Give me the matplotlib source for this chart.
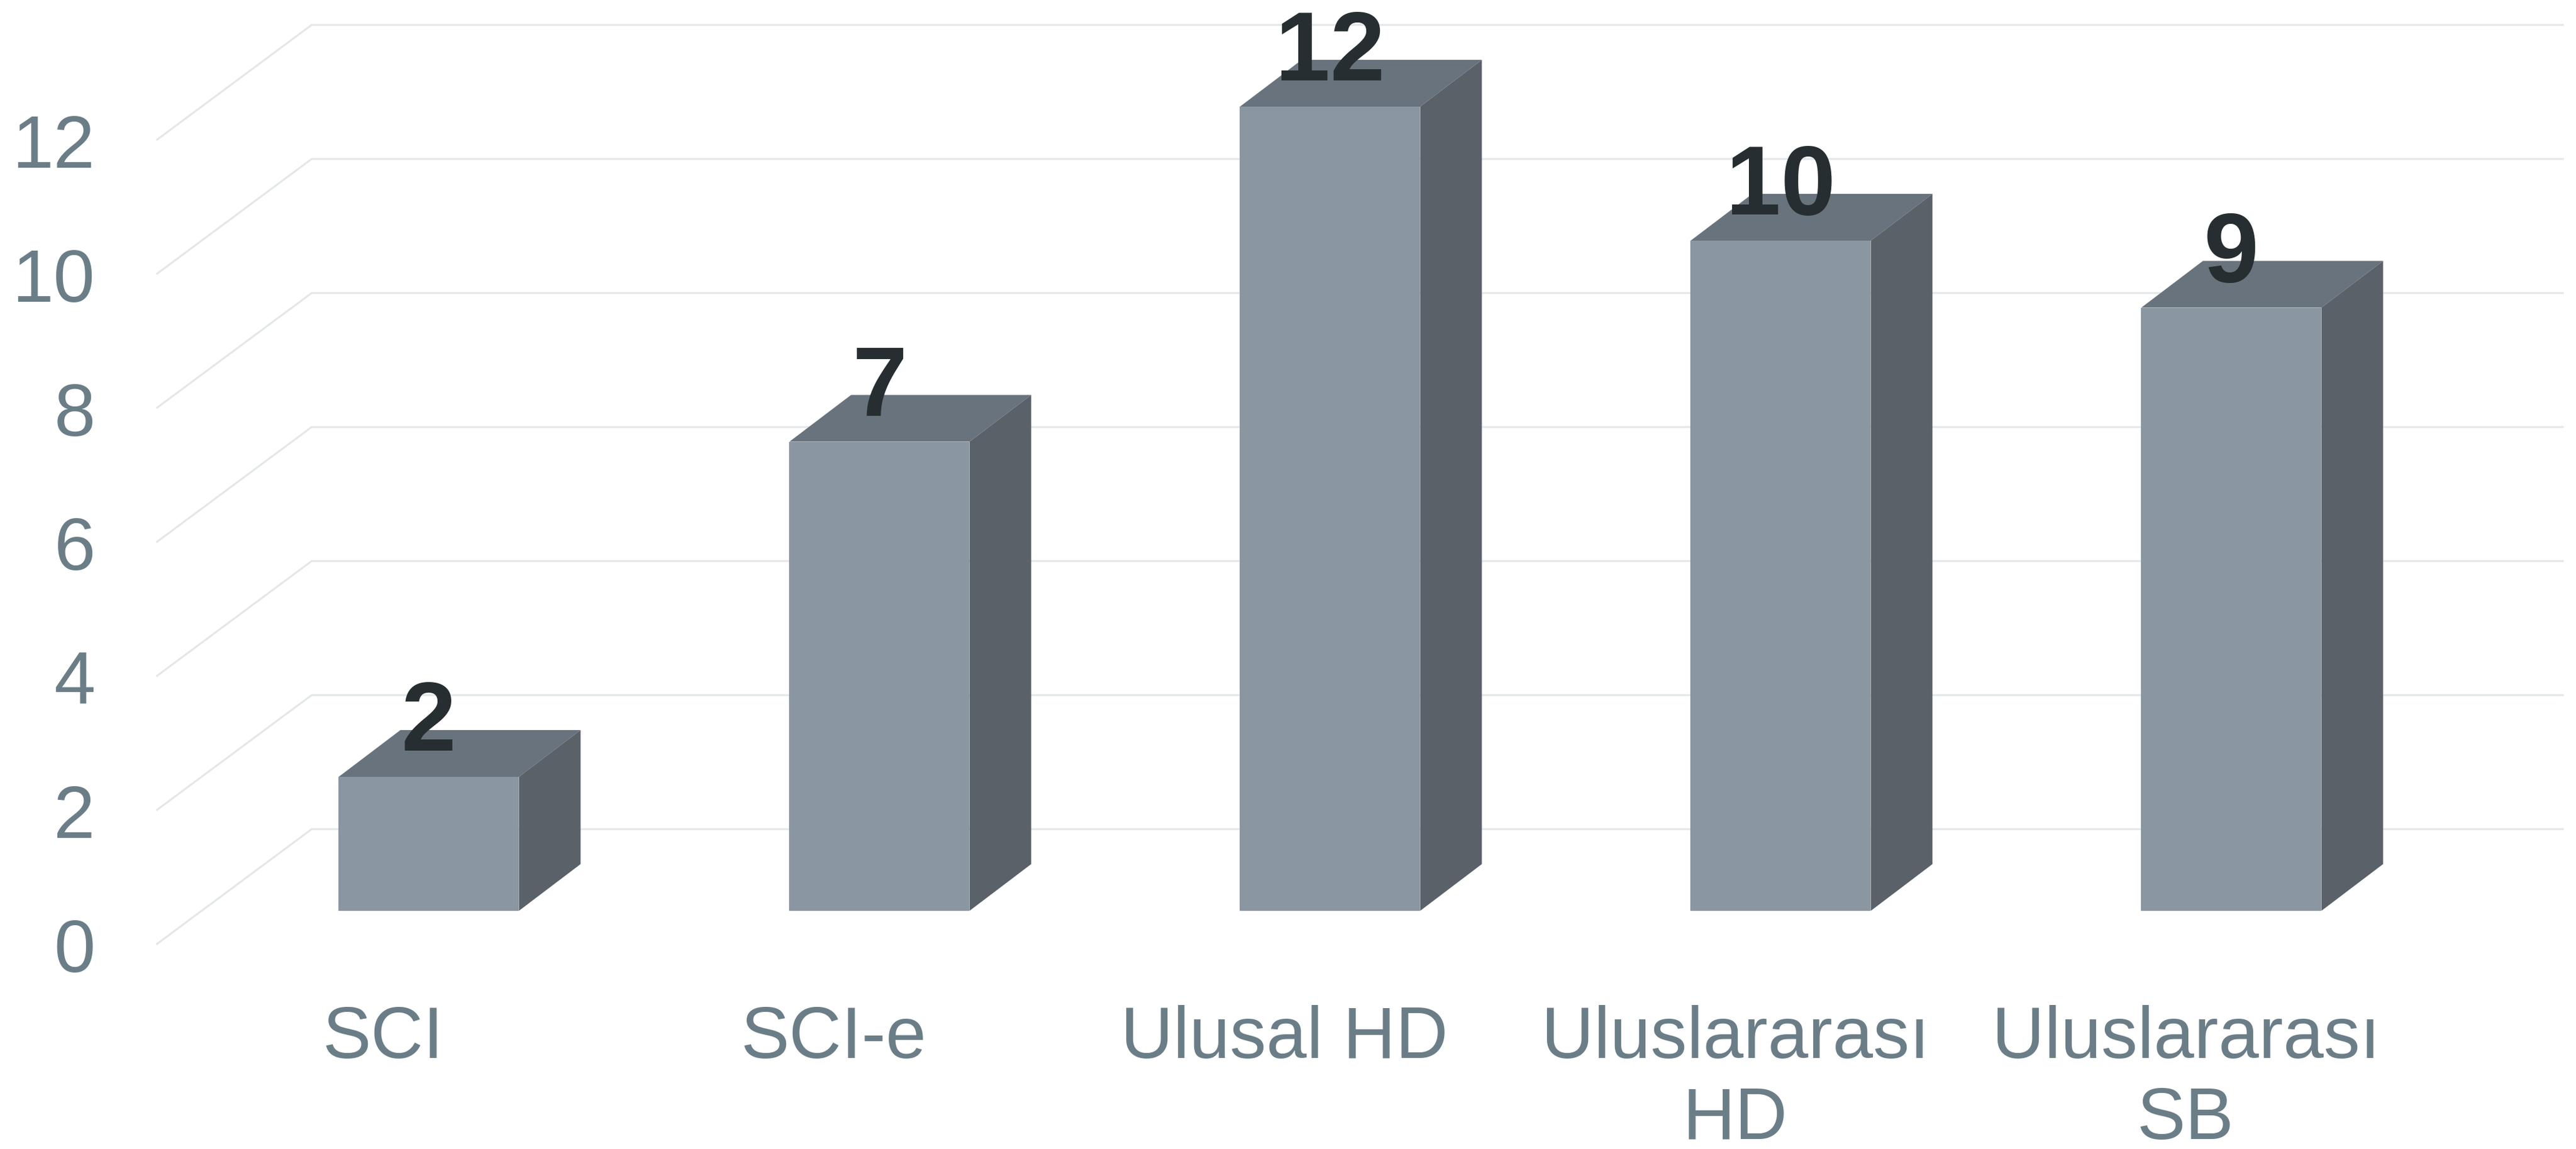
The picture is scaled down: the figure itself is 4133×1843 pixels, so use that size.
import matplotlib
matplotlib.use("Agg")
import matplotlib.pyplot as plt

categorias = ['SCI', 'SCI-e', 'Ulusal HD', 'Uluslararası\nHD', 'Uluslararası\nSB']
valores = [2, 7, 12, 10, 9]
marcas_y = [0, 2, 4, 6, 8, 10, 12]

ANCHO, ALTO = 4133, 1843
# donde caen en pixeles el centro de la primera barra, el cero y las escalas
X0_PX, Y0_PX = 688, 1461
PASO_X, PASO_Y = 723, 107.5

ancho_barra = 289 / PASO_X
prof_x, prof_y = 99 / PASO_X, 75 / PASO_Y
piso_x0 = (252 - X0_PX) / PASO_X
piso_x1 = (500 - X0_PX) / PASO_X
piso_x2 = (4112 - X0_PX) / PASO_X
piso_y0 = (Y0_PX - 1514) / PASO_Y
piso_y1 = (Y0_PX - 1330) / PASO_Y

COLOR_FRENTE = '#8a96a1'
COLOR_TECHO = '#69737d'
COLOR_LADO = '#5a6169'
COLOR_GRILLA = '#e3e7e9'
COLOR_TEXTO = '#6b7e87'
COLOR_VALOR = '#262e31'

plt.rcParams['font.family'] = ['Liberation Sans', 'DejaVu Sans']

fig = plt.figure(figsize=(ANCHO / 100, ALTO / 100), dpi=100)
ax = fig.add_axes([0, 0, 1, 1])
ax.set_xlim(-X0_PX / PASO_X, (ANCHO - X0_PX) / PASO_X)
ax.set_ylim((Y0_PX - ALTO) / PASO_Y, Y0_PX / PASO_Y)
ax.axis('off')

# grilla: pared del fondo y piso en perspectiva
for m in marcas_y:
    ax.plot([piso_x0, piso_x1, piso_x2], [m + piso_y0, m + piso_y1, m + piso_y1],
            color=COLOR_GRILLA, lw=2.2, zorder=1, solid_joinstyle='miter')
    ax.text((153 - X0_PX) / PASO_X, m + piso_y0 - 0.42, str(m), ha='right', va='baseline',
            color=COLOR_TEXTO, fontsize=86)

for i, v in enumerate(valores):
    izq = i - ancho_barra / 2
    der = i + ancho_barra / 2
    ax.fill([izq, der, der + prof_x, izq + prof_x], [v, v, v + prof_y, v + prof_y],
            color=COLOR_TECHO, lw=0, zorder=2)
    ax.fill([der, der + prof_x, der + prof_x, der], [0, prof_y, v + prof_y, v],
            color=COLOR_LADO, lw=0, zorder=2)
    ax.fill([izq, der, der, izq], [0, 0, v, v], color=COLOR_FRENTE, lw=0, zorder=3)
    ax.text(i, v + 0.39, str(v), ha='center', va='baseline', color=COLOR_VALOR,
            fontsize=114, fontweight='bold', zorder=4)
    # cada renglon de la categoria va aparte para fijar el interlineado
    for n, renglon in enumerate(categorias[i].split('\n')):
        ax.text(i - 73 / PASO_X, -2.20 - n * 1.2, renglon, ha='center', va='baseline',
                color=COLOR_TEXTO, fontsize=84, zorder=4)

fig.savefig('out.png', dpi=100, facecolor='white')
